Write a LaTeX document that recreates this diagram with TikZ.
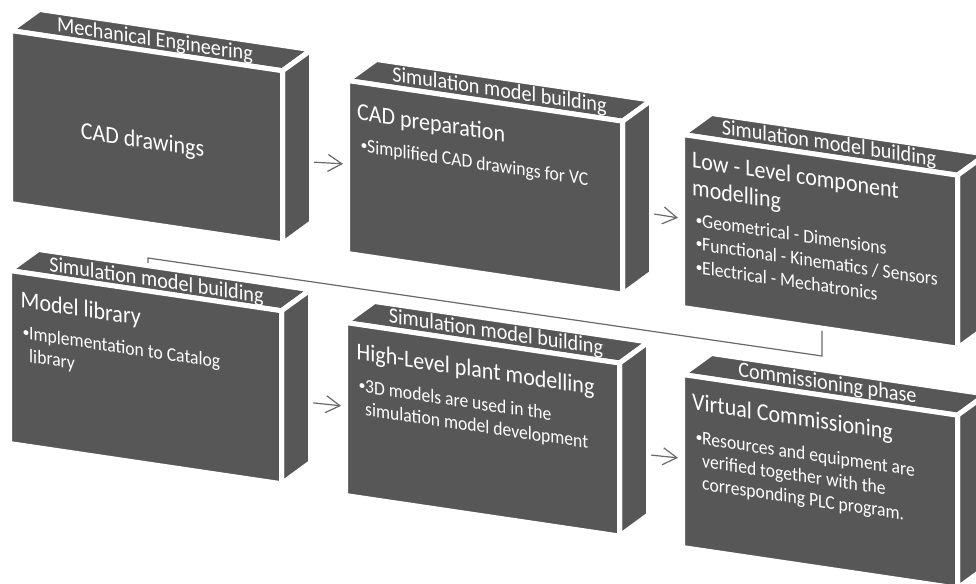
\documentclass[tikz,border=0pt]{standalone}
\usepackage{fontspec}
\setmainfont{Carlito}
\usetikzlibrary{arrows.meta}
\pgfdeclarelayer{background}
\pgfsetlayers{background,main}

\definecolor{facegray}{RGB}{87,87,87}
\definecolor{wiregray}{RGB}{105,105,105}

\tikzset{
  face/.style={fill=facegray, draw=white, line width=5pt, line join=round},
  toplabel/.style={text=white, font=\fontsize{20.2}{22}\selectfont, anchor=base, inner sep=0pt, transform shape, yscale=1.08},
  boxtitle/.style={text=white, font=\fontsize{22}{26}\selectfont, anchor=base west, inner sep=0pt, transform shape, yscale=1.1},
  boxbody/.style={text=white, font=\fontsize{17.6}{20}\selectfont, anchor=base west, inner sep=0pt, transform shape, yscale=1.1},
  dotmark/.style={text=white, font=\fontsize{14}{16}\selectfont, anchor=base west, inner sep=0pt, transform shape},
  wire/.style={draw=wiregray, line width=1.2pt},
  flow/.style={wire, -{Straight Barb[length=14pt,width=17pt,line width=1.2pt]}},
}

% A slab seen in perspective: front face, top face and right side face.
% #1 name, #2 x, #3 y (front top-left corner), #4 front width,
% #5 top label, #6 label base point, #7 contents of the front face
\newcommand{\slab}[7]{%
  \begin{scope}[shift={(#2,#3)}, yslant=-0.148]
    \path[face] (0,0) -- (29,-25.3) -- ({#4+29},-25.3) -- (#4,0) -- cycle;
    \path[face] (#4,0) -- ({#4+29},-25.3) -- ({#4+29},147.5) -- (#4,173) -- cycle;
    \path[face] (0,0) rectangle (#4,173);
    \node[toplabel] (#1-label) at (#6) {#5};
    \coordinate (#1-in)  at (-4.5,84);
    \coordinate (#1-out) at ({#4+18},88);
    \coordinate (#1-bot) at (139.5,165);
    \coordinate (#1-top) at (138.5,-10.5);
    #7
  \end{scope}}

% bullet line and continuation line on a front face
\newcommand{\point}[2]{%
  \node[dotmark] at (13,{#1-2}) {\textbullet};
  \node[boxbody] at (19.5,#1) {#2};}
\newcommand{\more}[2]{\node[boxbody] at (19.5,#1) {#2};}

\begin{document}
\begin{tikzpicture}[x=1pt, y=-1pt]
  \clip (0,0) rectangle (976,583);

  \slab{b1}{10.5}{30.5}{272}{Mechanical Engineering}{144.5,-5.5}{%
    \node[boxtitle, anchor=base] (b1-title) at (132,98) {CAD drawings};}

  \slab{b2}{347.5}{80.5}{275}{Simulation model building}{152,-6}{%
    \node[boxtitle] (b2-title) at (9.5,38) {CAD preparation};
    \point{69.5}{Simplified CAD drawings for VC}}

  \slab{b3}{682.5}{134.5}{275}{Simulation model building}{146.5,-6}{%
    \node[boxtitle] (b3-title) at (9.5,32) {Low - Level component};
    \node[boxtitle] (b3-title2) at (9.5,60) {modelling};
    \point{90}{Geometrical - Dimensions}
    \point{113.5}{Functional - Kinematics / Sensors}
    \point{137}{Electrical - Mechatronics}}

  \slab{b4}{9.5}{270.5}{272}{Simulation model building}{147,-5}{%
    \node[boxtitle] (b4-title) at (11,35.5) {Model library};
    \point{66.5}{Implementation to Catalog}
    \more{89}{library}}

  \slab{b5}{345.5}{322.5}{274}{Simulation model building}{150.5,-6}{%
    \node[boxtitle] (b5-title) at (11,35.5) {High-Level plant modelling};
    \point{67.5}{3D models are used in the}
    \more{90}{simulation model development}}

  \slab{b6}{682.5}{374.5}{275}{Commissioning phase}{145,-6}{%
    \node[boxtitle] (b6-title) at (9.5,34) {Virtual Commissioning};
    \point{67.5}{Resources and equipment are}
    \more{90}{verified together with the}
    \more{112.5}{corresponding PLC program.}}

  % connectors run behind the slabs
  \coordinate (bend1) at (822,356);
  \coordinate (bend2) at (148,258);
  \begin{pgfonlayer}{background}
    \draw[flow] (b1-out) -- (b2-in);
    \draw[flow] (b2-out) -- (b3-in);
    \draw[wire] (b3-bot) -- (b3-bot |- bend1) -- (b4-top |- bend2) -- (b4-top);
    \draw[flow] (b4-out) -- (b5-in);
    \draw[flow] (b5-out) -- (b6-in);
  \end{pgfonlayer}
\end{tikzpicture}
\end{document}
